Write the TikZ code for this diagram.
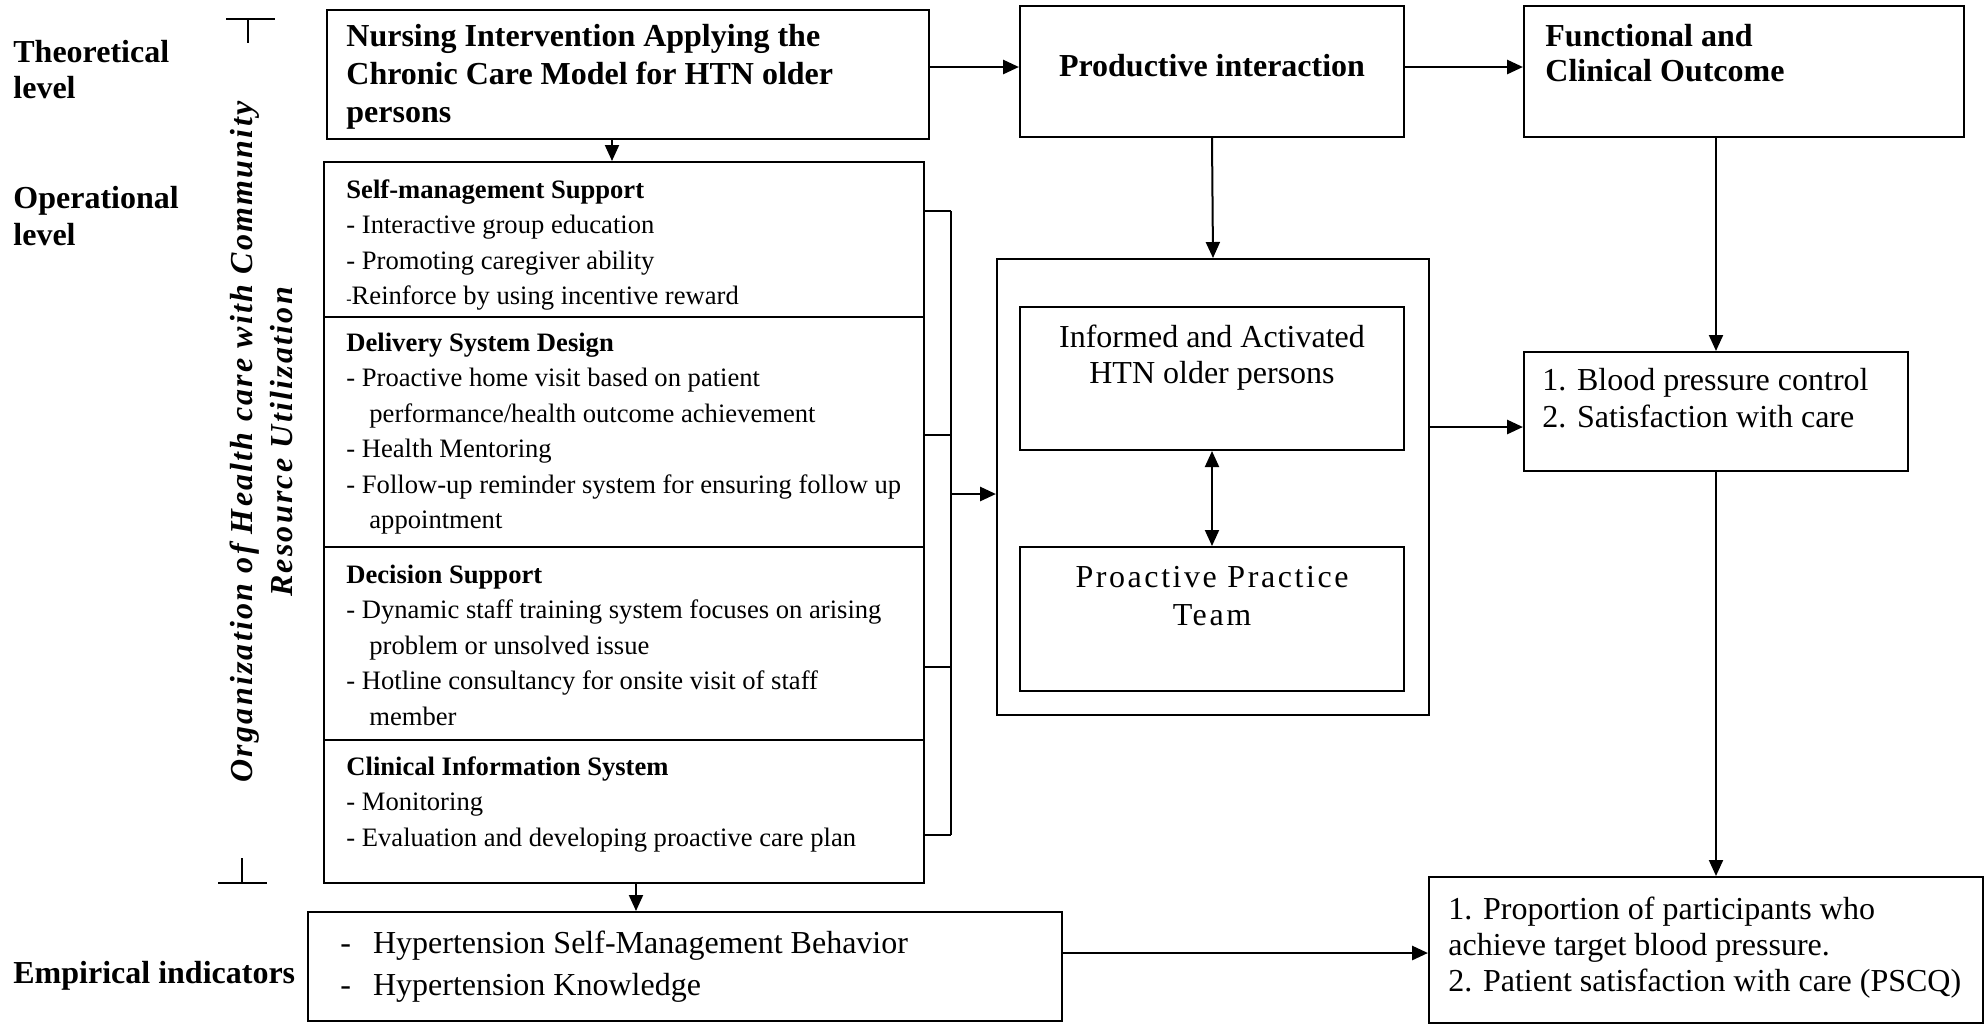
\documentclass[tikz,border=0pt]{standalone}
\usepackage{fontspec}
\setmainfont{Liberation Serif}
\usetikzlibrary{arrows.meta,fit,calc}
\newcommand\mylines[1]{\begin{tabular}[t]{@{}l@{}}#1\end{tabular}}
\newcommand\mycent[1]{\begin{tabular}[t]{@{}c@{}}#1\end{tabular}}
\newcommand\ind{\hspace*{11.5pt}}
\begin{document}
\begin{tikzpicture}[x=0.5pt,y=-0.5pt,
  box/.style={draw, line width=1pt, inner sep=0pt},
  txt/.style={inner sep=0pt, anchor=base west},
  ctxt/.style={inner sep=0pt, anchor=base},
  body/.style={font=\fontsize{13.3}{17.75}\selectfont},
  arr/.style={line width=1pt, -{Triangle[length=8pt,width=7pt]}},
  harr/.style={line width=1.4pt, -{Triangle[length=8pt,width=7pt]}},
  darr/.style={line width=1pt, {Triangle[length=8pt,width=7pt]}-{Triangle[length=8pt,width=7pt]}},
  thin/.style={line width=1pt}]
\useasboundingbox (0,0) rectangle (1987,1025);

% level labels
\node[txt, font=\fontsize{16}{18}\selectfont\bfseries] (lt) at (13,62) {\mylines{Theoretical\\level}};
\node[txt, font=\fontsize{16}{18.5}\selectfont\bfseries] (lo) at (13,208) {\mylines{Operational\\level}};
\node[txt, font=\fontsize{16}{18}\selectfont\bfseries] (le) at (13,983) {Empirical indicators};

% T bars
\coordinate (tb1) at (226,19); \coordinate (tb2) at (275,19);
\coordinate (tb3) at (248,19); \coordinate (tb4) at (248,43);
\draw[thin] (tb1) -- (tb2) (tb3) -- (tb4);
\coordinate (bb1) at (218,883); \coordinate (bb2) at (267,883);
\coordinate (bb3) at (242,858); \coordinate (bb4) at (242,883);
\draw[thin] (bb1) -- (bb2) (bb3) -- (bb4);

% rotated label
\node[rotate=90, align=center, inner sep=0pt,
  font=\fontsize{16}{20}\selectfont\bfseries\itshape\addfontfeature{LetterSpace=7}] (org) at (261,442)
  {Organization of Health care with Community\\Resource Utilization};

% boxes
\node[box, fit={(327,10) (929,139)}] (N) {};
\node[box, fit={(324,162) (924,317)}] (s1) {};
\node[box, fit={(324,317) (924,547)}] (s2) {};
\node[box, fit={(324,547) (924,740)}] (s3) {};
\node[box, fit={(324,740) (924,883)}] (s4) {};
\node[box, fit={(1020,6) (1404,137)}] (P) {};
\node[box, fit={(1524,6) (1964,137)}] (F) {};
\node[box, fit={(997,259) (1429,715)}] (O) {};
\node[box, fit={(1020,307) (1404,450)}] (I) {};
\node[box, fit={(1020,547) (1404,691)}] (T) {};
\node[box, fit={(1524,352) (1908,471)}] (B) {};
\node[box, fit={(1429,877) (1983,1023)}] (Q) {};
\node[box, fit={(308,912) (1062,1021)}] (E) {};

% texts
\node[txt, font=\fontsize{16}{19}\selectfont\bfseries] (tN) at (346,46)
  {\mylines{Nursing Intervention Applying the\\Chronic Care Model for HTN older\\persons}};
\node[ctxt, font=\fontsize{16}{19}\selectfont\bfseries] (tP) at (1212,76) {Productive interaction};
\node[txt, font=\fontsize{16}{17.75}\selectfont\bfseries] (tF) at (1545,46)
  {\mylines{Functional and\\Clinical Outcome}};
\node[txt, body] (t1) at (346,198)
  {\mylines{\textbf{Self-management Support}\\- Interactive group education\\- Promoting caregiver ability\\{\fontsize{8}{9}\selectfont-}Reinforce by using incentive reward}};
\node[txt, body] (t2) at (346,351)
  {\mylines{\textbf{Delivery System Design}\\- Proactive home visit based on patient\\\ind performance/health outcome achievement\\- Health Mentoring\\- Follow-up reminder system for ensuring follow up\\\ind appointment}};
\node[txt, body] (t3) at (346,583)
  {\mylines{\textbf{Decision Support}\\- Dynamic staff training system focuses on arising\\\ind problem or unsolved issue\\- Hotline consultancy for onsite visit of staff\\\ind member}};
\node[txt, body] (t4) at (346,775)
  {\mylines{\textbf{Clinical Information System}\\- Monitoring\\- Evaluation and developing proactive care plan}};
\node[ctxt, font=\fontsize{16}{18}\selectfont] (tI) at (1212,347)
  {\mycent{Informed and Activated\\HTN older persons}};
\node[ctxt, font=\fontsize{16}{19}\selectfont\addfontfeature{LetterSpace=8}] (tT) at (1212,587)
  {\mycent{Proactive Practice\\Team}};
\node[txt, font=\fontsize{16}{18.5}\selectfont] (tB) at (1542,390)
  {\mylines{1. Blood pressure control\\2. Satisfaction with care}};
\node[txt, font=\fontsize{16}{18}\selectfont] (tQ) at (1448,919)
  {\mylines{1. Proportion of participants who\\achieve target blood pressure.\\2. Patient satisfaction with care (PSCQ)}};
\node[txt, font=\fontsize{16}{21}\selectfont] (tE) at (340,953)
  {\begin{tabular}[t]{@{}l@{\hspace{11pt}}l@{}}-&Hypertension Self-Management Behavior\\-&Hypertension Knowledge\end{tabular}};

% connector helper coordinates
\coordinate (r1) at (0,67);
\coordinate (c1) at (612,0);
\coordinate (c2) at (636,0);
\coordinate (c3) at (0,953);
\coordinate (c4) at (0,427);
\coordinate (br1) at (951,211);
\coordinate (br2) at (951,435);
\coordinate (br3) at (951,667);
\coordinate (br4) at (951,835);
\coordinate (brm) at (951,494);

% connectors
\draw[harr] (N.east |- r1) -- (P.west |- r1);
\draw[harr] (P.east |- r1) -- (F.west |- r1);
\draw[arr] (N.south -| c1) -- (s1.north -| c1);
\draw[arr] (s4.south -| c2) -- (E.north -| c2);
\draw[harr] (E.east |- c3) -- (Q.west |- c3);
\draw[arr] (P.south) -- (O.north);
\draw[darr] (I.south) -- (T.north);
\draw[harr] (O.east |- c4) -- (B.west |- c4);
\draw[arr] (F.south -| B.north) -- (B.north);
\draw[arr] (B.south) -- (Q.north -| B.south);

% bracket
\draw[thin] (br1) -- (br4);
\draw[thin] (s1.east |- br1) -- (br1);
\draw[thin] (s2.east |- br2) -- (br2);
\draw[thin] (s3.east |- br3) -- (br3);
\draw[thin] (s4.east |- br4) -- (br4);
\draw[harr] (brm) -- (O.west |- brm);
\end{tikzpicture}
\end{document}
